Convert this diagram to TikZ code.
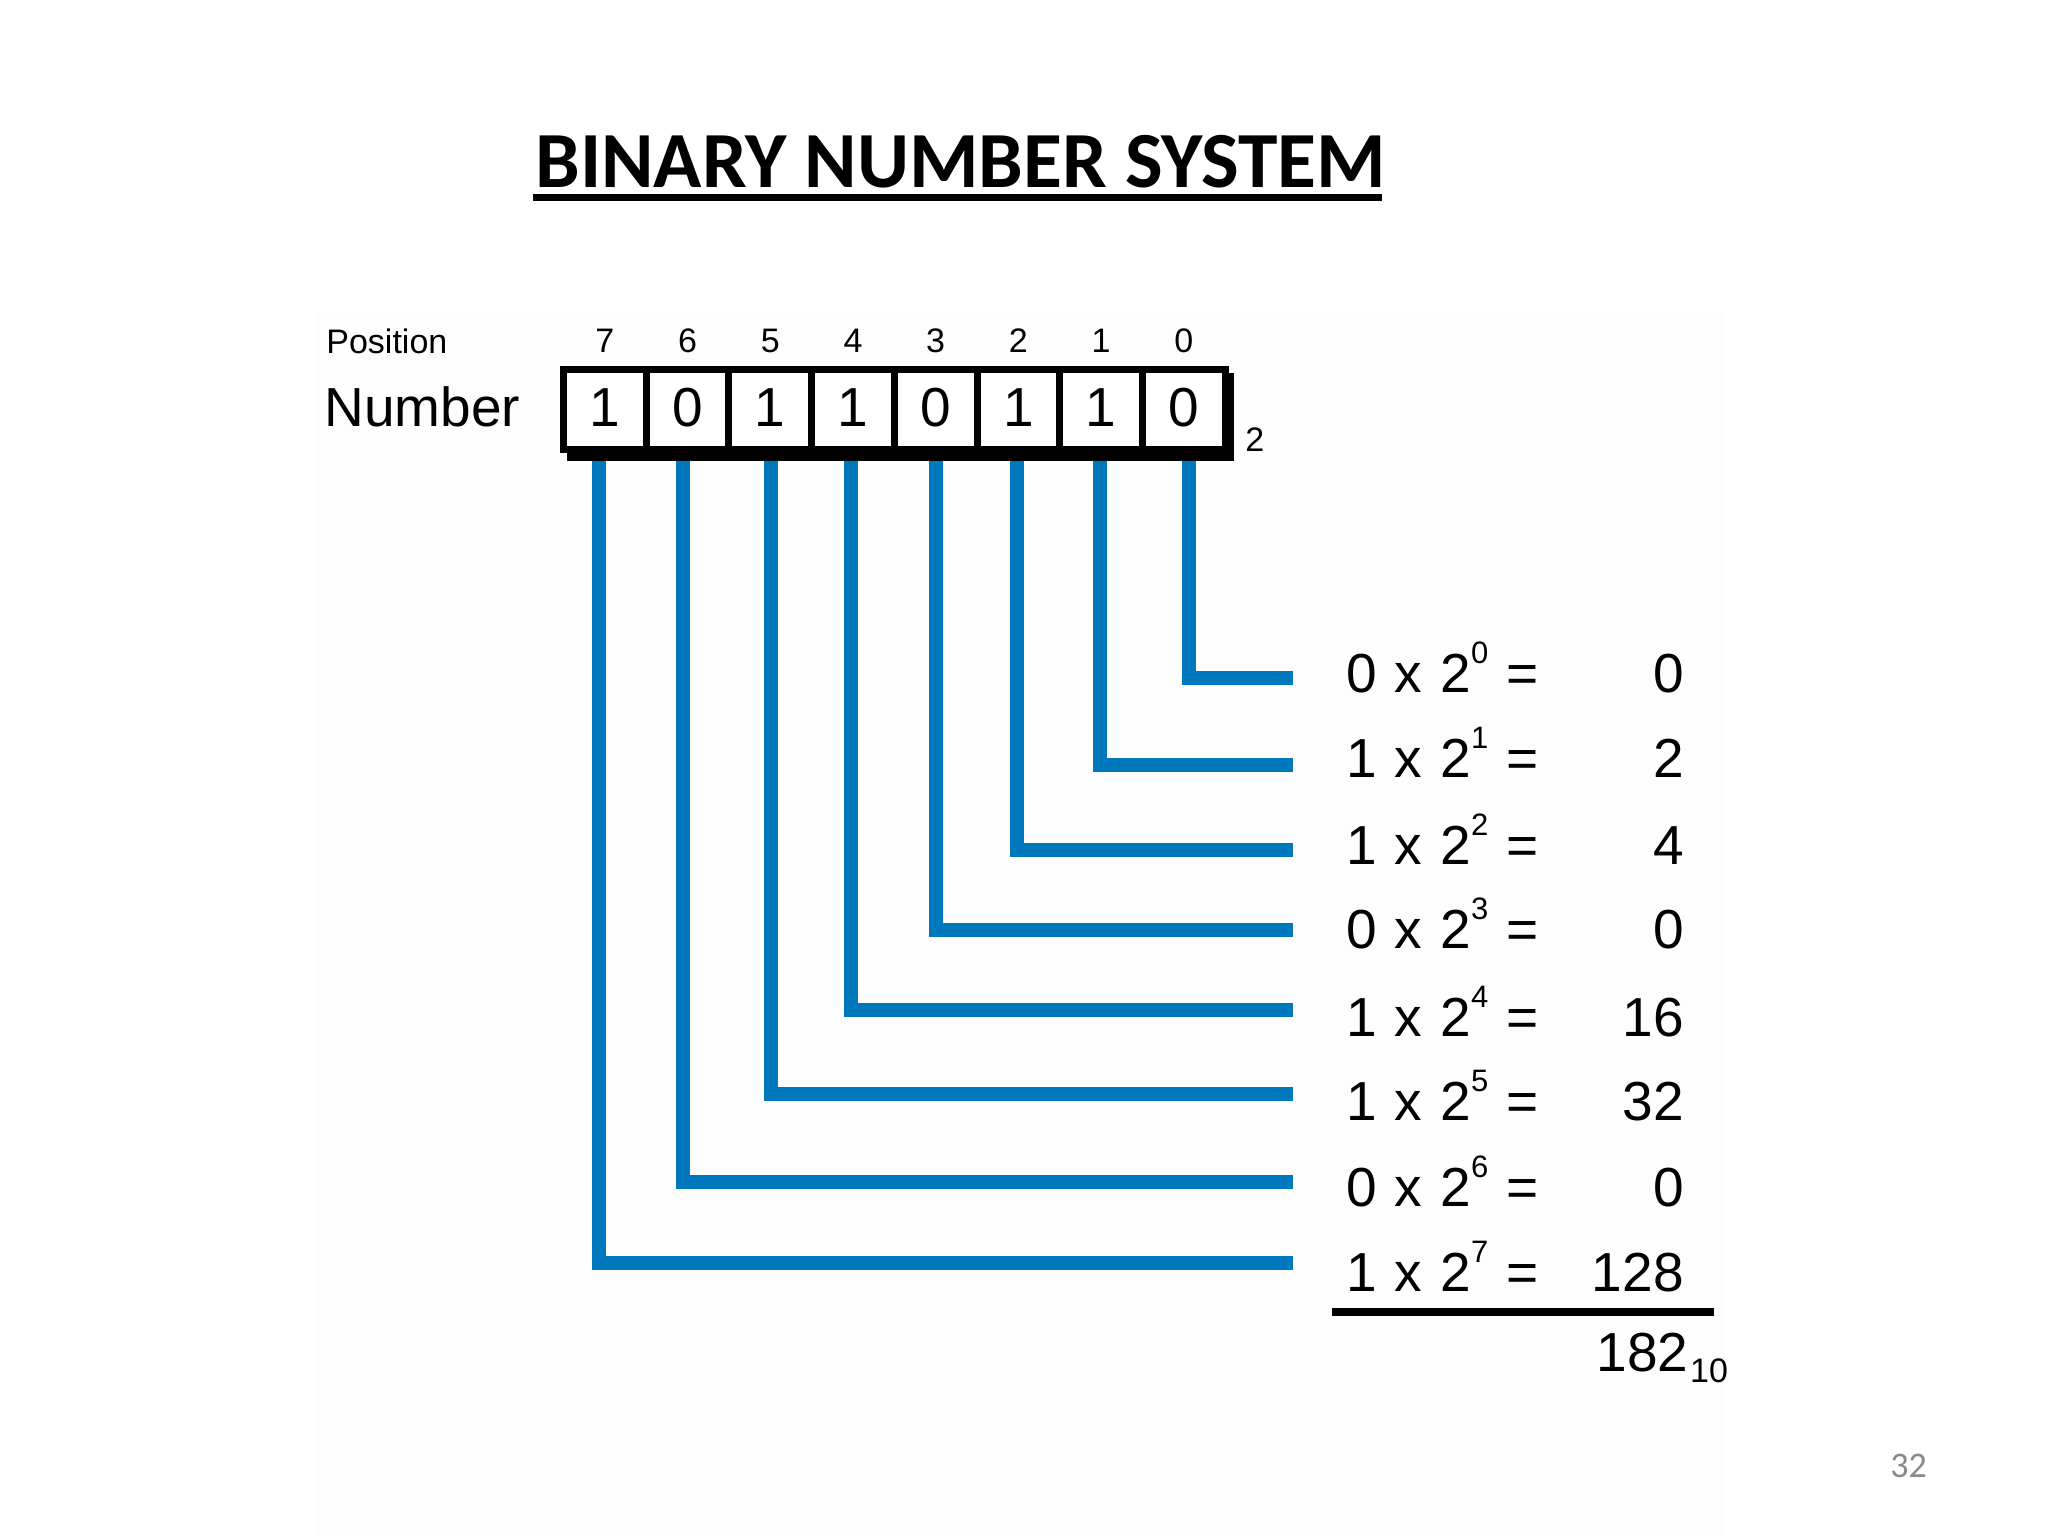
\documentclass[tikz,border=0pt]{standalone}
\usepackage{fontspec}
\setmainfont{Liberation Sans}
\newfontfamily\titlefont{Carlito}
\definecolor{lineblue}{RGB}{0,120,190}
\definecolor{pagegray}{RGB}{137,137,137}
\definecolor{bgfaint}{RGB}{253,253,253}
\newcommand\supsc[1]{\raisebox{14.5pt}{\fontsize{15.5}{18}\selectfont #1}}
\newcommand\eqgap{\hspace{9pt}}
\begin{document}
\begin{tikzpicture}[x=0.5pt,y=-0.5pt,
  blueline/.style={draw=lineblue,line width=7pt,line cap=butt,line join=miter},
  cellbox/.style={draw=black,fill=white,line width=3.5pt,minimum width=41.35pt,minimum height=40pt,inner sep=0pt},
  bigtext/.style={inner sep=0pt,font=\fontsize{27.5}{33}\selectfont},
  smalltext/.style={inner sep=0pt,font=\fontsize{17}{20}\selectfont},
  titletext/.style={inner sep=0pt,font=\titlefont\bfseries\fontsize{39.8}{46}\selectfont}]
\useasboundingbox (0,0) rectangle (2048,1536);
\fill[white] (0,0) rectangle (2048,1536);
\fill[bgfaint] (318,312) rectangle (1726,1536);
% title
\node[titletext,anchor=base west] (title) at (535,187) {BINARY NUMBER SYSTEM};
\draw[line width=3.5pt] (533,197.5) -- (1382,197.5);
% blue connectors
\foreach \p/\lx/\ly in {0/1188.5/678,1/1100/765,2/1016.5/850,3/935.5/930,4/851/1010,5/771/1094,6/683/1182,7/599/1263}{
  \coordinate (t\p) at (\lx,450);
  \coordinate (e\p) at (1293,\ly);
  \draw[blueline] (t\p) |- (e\p);
}
% shadow and box
\fill[black] (567,373) rectangle (1234,461);
\foreach \i/\b in {7/1,6/0,5/1,4/1,3/0,2/1,1/1,0/0}{
  \pgfmathsetmacro\cx{604.85+82.7*(7-\i)}
  \node[cellbox] (c\i) at (\cx,409.5) {};
  \node[bigtext,anchor=base] (d\i) at (\cx,426) {\b};
  \node[smalltext,anchor=base] (p\i) at (\cx,352) {\i};
}
\node[smalltext,anchor=base west] (poslabel) at (326,353) {Position};
\node[bigtext,anchor=base west] (numlabel) at (324,426) {Number};
\node[smalltext,anchor=base west] (base2) at (1245,451) {2};
% equations
\foreach \p/\bit/\bl/\res in {0/0/692/0,1/1/777/2,2/1/864/4,3/0/948/0,4/1/1036/16,5/1/1120/32,6/0/1206/0,7/1/1291/128}{
  \node[bigtext,anchor=base west] (r\p) at (1346,\bl) {\bit\eqgap x\eqgap 2\supsc{\p}\eqgap =};
  \node[bigtext,anchor=base east] (v\p) at (1684,\bl) {\res};
}
\draw[line width=4pt] (1332,1312) -- (1714,1312);
\node[bigtext,anchor=base west] (total) at (1596,1371) {182\hspace{1pt}\raisebox{-5.5pt}{\fontsize{17}{20}\selectfont 10}};
% page number
\node[inner sep=0pt,anchor=base west,text=pagegray,font=\titlefont\fontsize{18}{22}\selectfont] (pagenum) at (1890,1477) {32};
\end{tikzpicture}
\end{document}
